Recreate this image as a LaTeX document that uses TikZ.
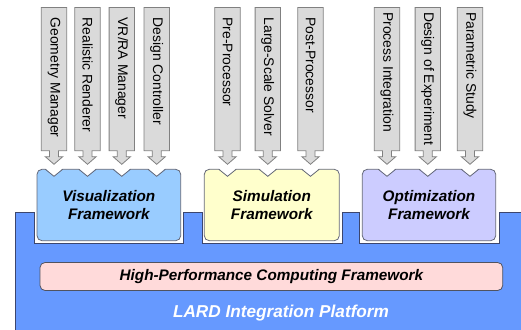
\documentclass[tikz,border=0pt]{standalone}
\usepackage{fontspec}
\setmainfont{Liberation Sans}
\definecolor{platblue}{RGB}{102,153,255}
\definecolor{platline}{RGB}{60,70,110}
\definecolor{vizfill}{RGB}{153,204,255}
\definecolor{simfill}{RGB}{255,255,204}
\definecolor{optfill}{RGB}{204,204,255}
\definecolor{hpcfill}{RGB}{255,218,218}
\definecolor{boxline}{RGB}{100,104,120}
\definecolor{barfill}{RGB}{218,218,218}
\definecolor{barline}{RGB}{128,128,128}
\tikzset{
  barshape/.style={draw=barline, fill=barfill, line width=0.8pt, line join=miter},
  barlabel/.style={rotate=-90, anchor=west, inner sep=0pt,
    font=\fontsize{13.9}{16}\selectfont},
  fwbox/.style={draw=boxline, line width=0.8pt, rounded corners=5pt,
    minimum height=71.4pt, align=center, inner sep=0pt,
    font=\fontsize{15.3}{18.6}\selectfont\bfseries\itshape},
  notchcut/.style={fill=white},
  notchline/.style={draw=boxline, line width=0.8pt},
  platform/.style={draw=platline, fill=platblue, line width=0.8pt},
  hpcbar/.style={draw=boxline!80!black, fill=hpcfill, line width=0.8pt,
    rounded corners=5pt, minimum width=462.7pt, minimum height=28pt,
    inner sep=0pt, font=\fontsize{15.3}{18}\selectfont\bfseries\itshape},
  lardlabel/.style={text=white, inner sep=0pt,
    font=\fontsize{17.2}{20}\selectfont\bfseries\itshape}
}
% module bar with its block arrow head: #1 centre x, #2 name, #3 text start y, #4 text
\newcommand\modbar[4]{%
  \draw[barshape] (#1-12.7,7.5) -- (#1+12.7,7.5) -- (#1+12.7,150.7)
    -- (#1+4.5,150.7) -- (#1+4.5,156.7) -- (#1+8.7,156.7) -- (#1,164.3)
    -- (#1-8.7,156.7) -- (#1-4.5,156.7) -- (#1-4.5,150.7)
    -- (#1-12.7,150.7) -- cycle;
  \node[barlabel] (#2) at (#1,#3) {#4};
}
% V-shaped notch in the top edge of a framework box
\newcommand\fwnotch[1]{%
  \fill[notchcut] (#1-8.7,168.2) -- (#1+8.7,168.2) -- (#1,176.3) -- cycle;
  \draw[notchline] (#1-8.7,169.3) -- (#1,176.3) -- (#1+8.7,169.3);
}
\begin{document}
\begin{tikzpicture}[x=1pt,y=-1pt]
\useasboundingbox (0,0) rectangle (521,329);

% integration platform with cut-outs for the frameworks
\draw[platform] (15,212.3) -- (34.3,212.3) -- (34.3,243.5) -- (183.3,243.5)
  -- (183.3,212.3) -- (202.3,212.3) -- (202.3,243.5) -- (342,243.5)
  -- (342,212.3) -- (359.3,212.3) -- (359.3,243.5) -- (499.3,243.5)
  -- (499.3,212.3) -- (530,212.3) -- (530,340) -- (15,340) -- cycle;

% module bars
\modbar{54}{geo}{17.5}{Geometry Manager}
\modbar{87.5}{ren}{17.5}{Realistic Renderer}
\modbar{121.8}{vrra}{17.5}{VR/RA Manager}
\modbar{156.7}{dctl}{17.5}{Design Controller}
\modbar{227.5}{pre}{17.5}{Pre-Processor}
\modbar{267.8}{solver}{17.5}{Large-Scale Solver}
\modbar{310.5}{post}{17.5}{Post-Processor}
\modbar{387}{pint}{12}{Process Integration}
\modbar{427.8}{doe}{12}{Design of Experiment}
\modbar{470}{pstudy}{12}{Parametric Study}

% framework boxes
\node[fwbox, fill=vizfill, minimum width=143.7pt] (viz) at (108.85,205)
  {Visualization\\Framework};
\node[fwbox, fill=simfill, minimum width=135pt] (sim) at (271.8,205)
  {Simulation\\Framework};
\node[fwbox, fill=optfill, minimum width=133.4pt] (opt) at (429,205)
  {Optimization\\Framework};
\foreach \cx in {54,87.5,121.8,156.7,227.5,267.8,310.5,387,427.8,470}
  {\fwnotch{\cx}}

% computing layer and platform title
\node[hpcbar] (hpc) at (271.35,276.5) {High-Performance Computing Framework};
\node[lardlabel] (lard) at (281,313) {LARD Integration Platform};
\end{tikzpicture}
\end{document}
